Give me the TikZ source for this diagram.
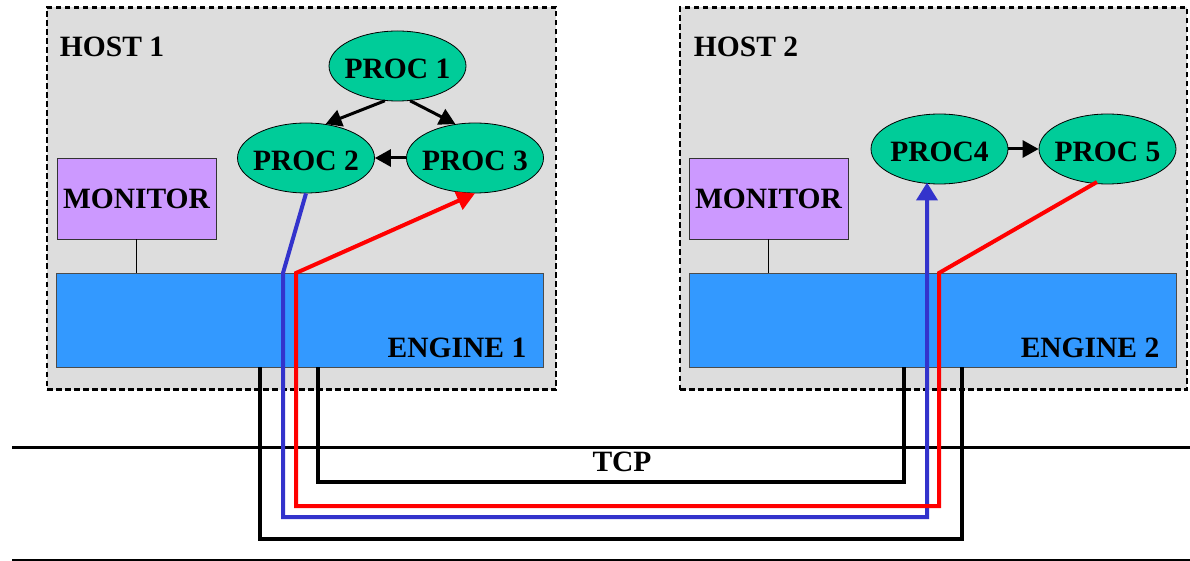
\documentclass[tikz,border=0pt]{standalone}
\usepackage{fontspec}
\setmainfont{Liberation Serif}
\usetikzlibrary{shapes.geometric,arrows.meta}
\definecolor{hostgray}{HTML}{DDDDDD}
\definecolor{monfill}{HTML}{CC99FF}
\definecolor{engfill}{HTML}{3399FF}
\definecolor{procfill}{HTML}{00CC99}
\definecolor{blueline}{HTML}{3333CC}
\definecolor{redline}{HTML}{FF0000}
\begin{document}
\begin{tikzpicture}[x=1pt,y=-1pt,
  txt/.style={font=\fontsize{29.5}{31}\selectfont\bfseries, inner sep=0pt},
  hostbox/.style={draw, dash pattern=on 5.5pt off 3.5pt, line width=2.3pt, fill=hostgray, minimum width=#1, minimum height=382pt, inner sep=0pt},
  monbox/.style={draw=black!80, line width=0.8pt, fill=monfill, minimum width=159pt, minimum height=81pt, inner sep=0pt},
  engbox/.style={draw=black!70, line width=0.8pt, fill=engfill, minimum width=487pt, minimum height=94pt, inner sep=0pt},
  procnode/.style={ellipse, draw, line width=0.8pt, fill=procfill, minimum width=137pt, minimum height=70pt, inner sep=0pt},
  arr/.style={line width=3pt, -{Triangle[length=16pt,width=17pt]}},
  tcpline/.style={line width=4pt, line join=miter},
  flow/.style={line width=4pt, line join=miter},
]
\useasboundingbox (0,0) rectangle (1190,561);

% hosts
\node[hostbox=509pt] (h1) at (301.5,198.5) {};
\node[hostbox=507pt] (h2) at (933.5,198.5) {};
\node[txt] (h1t) at (112,47) {HOST 1};
\node[txt] (h2t) at (746,47) {HOST 2};

% engines
\node[engbox] (e1) at (300,320) {};
\node[engbox] (e2) at (932.5,320) {};
\node[txt] (e1t) at (457,348) {ENGINE 1};
\node[txt] (e2t) at (1090,348) {ENGINE 2};

% monitors
\node[monbox] (m1) at (136.5,198.5) {};
\node[txt] at (m1) {MONITOR};
\node[monbox] (m2) at (768.5,198.5) {};
\node[txt] at (m2) {MONITOR};
\draw[line width=0.8pt] (m1.south) -- (m1.south |- e1.north);
\draw[line width=0.8pt] (m2.south) -- (m2.south |- e2.north);

% processes
\node[procnode] (p1) at (397.5,66) {};
\node[procnode] (p2) at (306,158) {};
\node[procnode] (p3) at (475,158) {};
\node[procnode] (p4) at (939.5,149) {};
\node[procnode] (p5) at (1107.5,149) {};
\node[txt] at ([yshift=-3pt]p1) {PROC 1};
\node[txt] at ([yshift=-3pt]p2) {PROC 2};
\node[txt] at ([yshift=-3pt]p3) {PROC 3};
\node[txt] at ([yshift=-3pt]p4) {PROC4};
\node[txt] at ([yshift=-3pt]p5) {PROC 5};

\draw[arr] (p1.250) -- (p2.60);
\draw[arr] (p1.290) -- (p3.120);
\draw[arr] (p3.west) -- (p2.east);
\draw[arr] (p4.east) -- (p5.west);

% network lines
\draw[line width=3pt] (12,447) coordinate (n1) -- (1190,447) coordinate (n2);
\draw[line width=1.5pt] (12,560) coordinate (n3) -- (1190,560) coordinate (n4);
\node[txt] (tcp) at (622,462) {TCP};

% TCP connections
\coordinate (oa) at (260,539);
\coordinate (ob) at (962,539);
\coordinate (ia) at (318,482);
\coordinate (ib) at (904,482);
\draw[tcpline] (e1.south -| oa) -- (oa) -- (ob) -- (e2.south -| ob);
\draw[tcpline] (e1.south -| ia) -- (ia) -- (ib) -- (e2.south -| ib);

% blue flow PROC2 -> PROC4
\coordinate (b1) at (283,273);
\coordinate (b2) at (283,517);
\coordinate (b3) at (927,517);
\coordinate (b4) at (927,182.5);
\draw[flow, draw=blueline, -{Triangle[length=18pt,width=21pt]}] (p2.south) -- (b1) -- (b2) -- (b3) -- (b4);

% red flow PROC5 -> PROC3
\coordinate (r0) at (1097,182);
\coordinate (r1) at (939,273);
\coordinate (r2) at (939,506);
\coordinate (r3) at (296,506);
\coordinate (r4) at (296,273);
\draw[flow, draw=redline, -{Triangle[length=18pt,width=19pt]}] (r0) -- (r1) -- (r2) -- (r3) -- (r4) -- (p3.south);
\end{tikzpicture}
\end{document}
